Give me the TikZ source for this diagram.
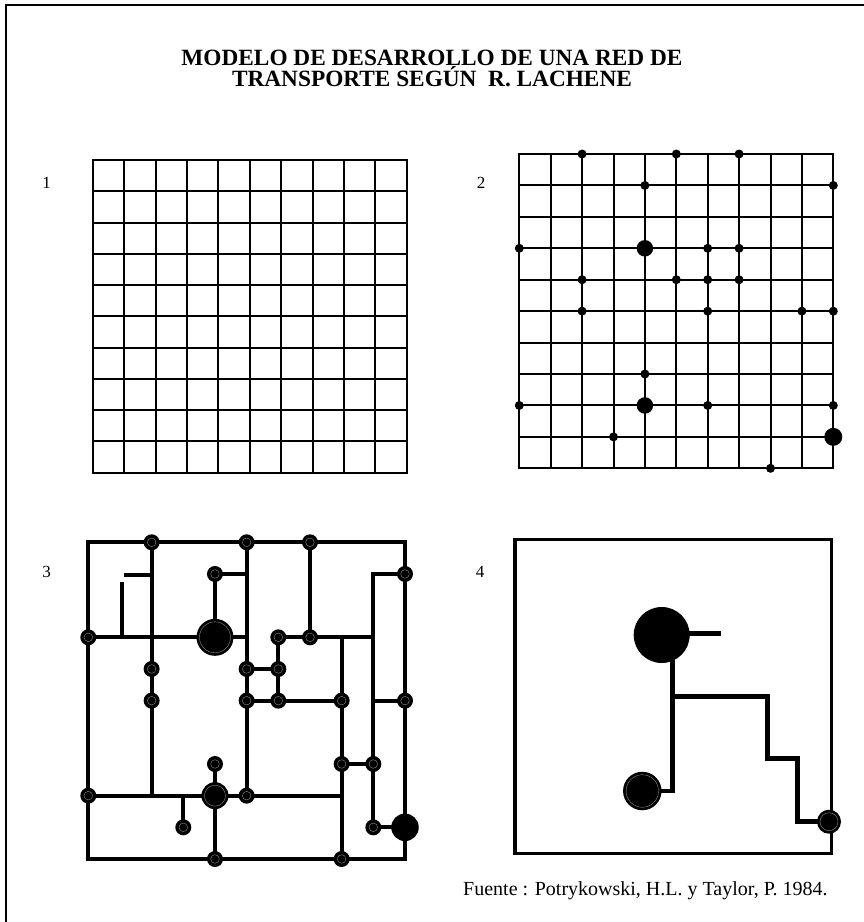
\documentclass[tikz,border=0pt]{standalone}
\usepackage{fontspec}
\setmainfont{Liberation Serif}
\begin{document}
\begin{tikzpicture}[x=1pt,y=-1pt,
  gridline/.style={line width=2pt, line cap=rect},
  dot/.style={circle, fill=black, inner sep=0pt, minimum size=9pt},
  bigdot/.style={circle, fill=black, inner sep=0pt, minimum size=16.5pt},
  road/.style={line width=3.8pt},
  stn/.style={circle, fill=black, inner sep=0pt, minimum size=16pt,
    path picture={\draw[gray!70, line width=0.3pt] (path picture bounding box.center) circle (4.3pt);}},
  bigstn/.style={circle, fill=black, inner sep=0pt, minimum size=#1,
    path picture={\draw[gray!70, line width=0.3pt] (path picture bounding box.center) circle ({#1/2-3pt});}},
  numlab/.style={font=\fontsize{17}{17}\selectfont, anchor=base, inner sep=0pt}
]
\useasboundingbox (0,0) rectangle (864,922);
% frame
\draw[line width=2pt] (5.5,922) -- (5.5,4.5) -- (864,4.5);

% title
\node[font=\bfseries\fontsize{23.3}{21.5}\selectfont, align=center, inner sep=0pt] (title) at (432,68.3)
  {MODELO DE DESARROLLO DE UNA RED DE\\TRANSPORTE SEGÚN\ \ R. LACHENE};

% labels
\node[numlab] (l1) at (46.5,188.3) {1};
\node[numlab] (l2) at (481,188.3) {2};
\node[numlab] (l3) at (46.5,577) {3};
\node[numlab] (l4) at (480,577) {4};

% panel 1
\begin{scope}[xshift=92.7pt, yshift=-160pt, x=31.4pt, y=-31.27pt]
  \foreach \i in {0,...,10} {
    \draw[gridline] (\i,0) -- (\i,10);
    \draw[gridline] (0,\i) -- (10,\i);
  }
\end{scope}

% panel 2
\begin{scope}[xshift=519.3pt, yshift=-154pt, x=31.4pt, y=-31.43pt]
  \foreach \i in {0,...,10} {
    \draw[gridline] (\i,0) -- (\i,10);
    \draw[gridline] (0,\i) -- (10,\i);
  }
  \foreach \c/\r [count=\n] in {2/0,5/0,7/0,4/1,10/1,0/3,6/3,7/3,2/4,5/4,6/4,7/4,2/5,6/5,9/5,10/5,4/7,0/8,6/8,10/8,3/9,8/10}
    \node[dot] (d\n) at (\c,\r) {};
  \node[bigdot] (D1) at (4,3) {};
  \node[bigdot] (D2) at (4,8) {};
  \node[bigdot, minimum size=18pt] (D3) at (10,9) {};
\end{scope}

% panel 3
\begin{scope}[xshift=88.3pt, yshift=-542.3pt, x=31.67pt, y=-31.67pt]
  \draw[road] (0,0) rectangle (10,10);
  \draw[road] (2,0) -- (2,8);
  \draw[road] (1.12,1.03) -- (2,1.03);
  \draw[road] (1.07,1.24) -- (1.07,3);
  \draw[road] (0,3) -- (5,3);
  \draw[road] (4,3) -- (4,1) -- (5,1);
  \draw[road] (5,0) -- (5,8);
  \draw[road] (7,0) -- (7,3);
  \draw[road] (6,3) -- (9,3);
  \draw[road] (10,1) -- (9,1) -- (9,9) -- (10,9);
  \draw[road] (6,3) -- (6,5);
  \draw[road] (5,4) -- (6,4);
  \draw[road] (5,5) -- (8,5);
  \draw[road] (8,3) -- (8,10);
  \draw[road] (9,5) -- (10,5);
  \draw[road] (8,7) -- (9,7);
  \draw[road] (0,8) -- (8,8);
  \draw[road] (4,7) -- (4,10);
  \draw[road] (3,8) -- (3,9);
  \foreach \c/\r [count=\n] in {2/0,5/0,7/0,4/1,10/1,0/3,6/3,7/3,2/4,5/4,6/4,2/5,5/5,6/5,8/5,10/5,4/7,8/7,9/7,0/8,5/8,3/9,9/9,4/10,8/10}
    \node[stn] (s\n) at (\c,\r) {};
  \node[bigstn=37pt] (S1) at (4,3) {};
  \node[bigstn=27pt] (S2) at (4,8) {};
  \node[circle, fill=black, inner sep=0pt, minimum size=27.5pt] (S3) at (10,9) {};
\end{scope}

% panel 4
\draw[line width=3.5pt] (515,539.3) rectangle (831.7,853.3);
\coordinate (q1) at (672.7,635);
\coordinate (q2) at (672.7,791);
\coordinate (q3) at (672.7,696.7);
\draw[line width=4.6pt] (661.7,633.3) -- (720.7,633.3);
\draw[line width=4.6pt] (q1) -- (q2) -- (642.3,791);
\draw[line width=4.6pt] (q3) -- (767.7,696.7) -- (767.7,758.3) -- (797.7,758.3) -- (797.7,821.7) -- (829,821.7);
\node[circle, fill=black, inner sep=0pt, minimum size=56pt] (C1) at (661.7,635) {};
\node[bigstn=38.5pt] (C2) at (642.3,791) {};
\node[bigstn=24pt] (C3) at (829,821.7) {};

% source
\node[font=\fontsize{20}{20}\selectfont, anchor=base west, inner sep=0pt] (src) at (463,895)
  {Fuente : Potrykowski, H.L. y Taylor, P. 1984.};
\end{tikzpicture}
\end{document}
